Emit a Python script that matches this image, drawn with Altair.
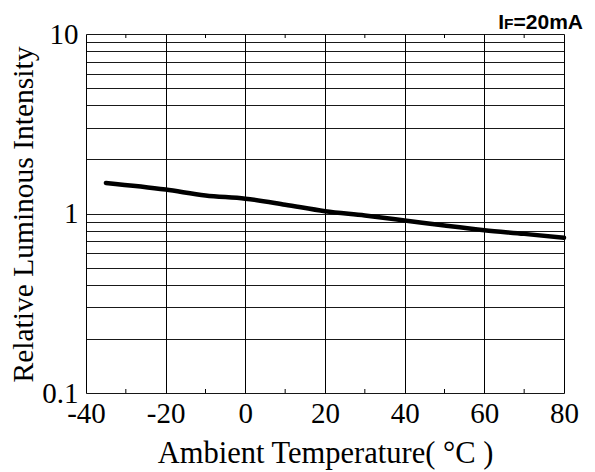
import altair as alt
import pandas as pd

# Curve data
temps = [-35, -20, -10, 0, 10, 20, 30, 40, 50, 60, 70, 80]
intensity = [1.48, 1.36, 1.26, 1.21, 1.12, 1.03, 0.975, 0.915, 0.857, 0.807, 0.77, 0.732]

# Axis values
x_ticks = [-40, -20, 0, 20, 40, 60, 80]
x_minor = [-30, -10, 10, 30, 50, 70]
y_grid = [0.1, 0.2, 0.3, 0.4, 0.5, 0.6, 0.7, 0.8, 0.9,
          1, 2, 3, 4, 5, 6, 7, 8, 9, 10]
y_labels = [0.1, 1, 10]
note_main = ["=20mA"]
note_sub = ["F"]
note_i = ["I"]

W, H = 478, 359
PAD_R = 23
serif = "Liberation Serif"
sans = "Liberation Sans"
NOTE_FS, SUB_FS = 21, 15.5

df = pd.DataFrame({"t": temps, "v": intensity})
minor_df = pd.DataFrame({"t": x_minor})

xscale = alt.Scale(domain=[-40, 80], nice=False, zero=False)
yscale = alt.Scale(type="log", domain=[0.1, 10], nice=False)

label_test = " || ".join(f"datum.value == {v}" for v in y_labels)

xaxis = alt.Axis(
    values=x_ticks, grid=True, gridColor="#000", gridWidth=1, gridOpacity=1,
    ticks=False, domain=False, labelExpr="toString(datum.value)",
    labelFont=serif, labelFontSize=29,
    labelColor="#000", labelPadding=6, labelFlush=False, labelOverlap=False,
    labelBound=False,
    title="Ambient Temperature( \u00b0C )", titleFont=serif, titleFontSize=30.5,
    titleFontWeight="normal", titleColor="#000", titleX=239, titleY=69,
    titleAlign="center", titleBaseline="alphabetic",
)
yaxis = alt.Axis(
    values=y_grid, grid=True, gridColor="#000", gridWidth=1, gridOpacity=0.9,
    ticks=False, domain=False, format="~g",
    labelExpr=f"({label_test}) ? datum.label : ''",
    labelFont=serif, labelFontSize=29, labelColor="#000", labelPadding=8,
    labelOverlap=False, labelBound=False, labelFlush=False,
    title="Relative Luminous Intensity", titleFont=serif, titleFontSize=29.5,
    titleFontWeight="normal", titleColor="#000", titleAngle=270,
    titleX=-54, titleY=180, titleAlign="center", titleBaseline="alphabetic",
)

line = alt.Chart(df).mark_line(
    color="#000", strokeWidth=4.5, interpolate="monotone", strokeCap="round"
).encode(
    x=alt.X("t:Q", scale=xscale, axis=xaxis),
    y=alt.Y("v:Q", scale=yscale, axis=yaxis),
)

tick_bottom = alt.Chart(minor_df).mark_rule(color="#000", strokeWidth=1).encode(
    x=alt.X("t:Q", scale=xscale),
    y=alt.value(H), y2=alt.value(H - 4),
)
tick_top = alt.Chart(minor_df).mark_rule(color="#000", strokeWidth=1).encode(
    x=alt.X("t:Q", scale=xscale),
    y=alt.value(0), y2=alt.value(4),
)

# "IF=20mA" with a small F, built from three text pieces
main_w = NOTE_FS * 3.307   # width of "=20mA" in Arial-metric bold
sub_w = SUB_FS * 0.611     # width of "F"
note_x = W + PAD_R - 4
note_y = -5

t_main = alt.Chart(pd.DataFrame({"s": note_main})).mark_text(
    font=sans, fontWeight="bold", fontSize=NOTE_FS, color="#000",
    align="right", baseline="alphabetic",
).encode(text="s:N", x=alt.value(note_x), y=alt.value(note_y))
t_sub = alt.Chart(pd.DataFrame({"s": note_sub})).mark_text(
    font=sans, fontWeight="bold", fontSize=SUB_FS, color="#000",
    align="right", baseline="alphabetic",
).encode(text="s:N", x=alt.value(note_x - main_w), y=alt.value(note_y))
t_i = alt.Chart(pd.DataFrame({"s": note_i})).mark_text(
    font=sans, fontWeight="bold", fontSize=NOTE_FS, color="#000",
    align="right", baseline="alphabetic",
).encode(text="s:N", x=alt.value(note_x - main_w - sub_w), y=alt.value(note_y))

chart = alt.layer(line, tick_bottom, tick_top, t_main, t_sub, t_i).properties(
    width=W, height=H,
    autosize=alt.AutoSizeParams(type="none"),
    padding={"left": 78, "top": 26, "right": PAD_R, "bottom": 79},
).configure_view(
    stroke="#000", strokeWidth=1.5, fill="white"
).configure(background="white")

chart.save("out.html", embed_options={"renderer": "svg", "actions": False})
